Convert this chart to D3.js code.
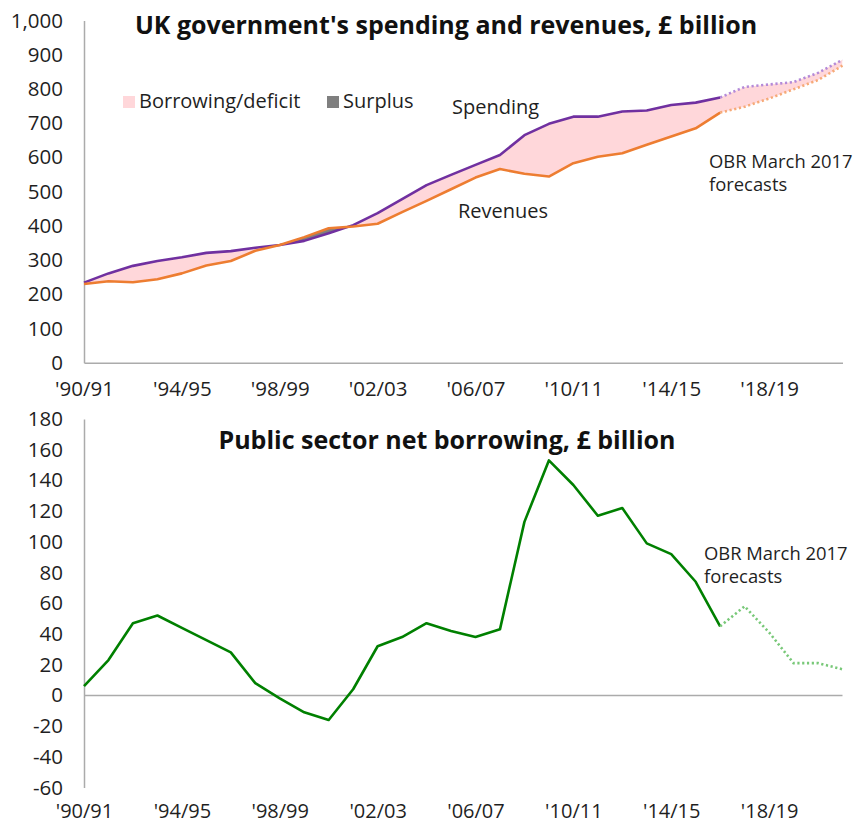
<!DOCTYPE html>
<html>
<head>
<meta charset="utf-8">
<script src="https://cdn.jsdelivr.net/npm/d3@7"></script>
<style>
  html, body { margin: 0; padding: 0; background: #fff; }
  svg { display: block; font-family: "Open Sans", "Noto Sans", sans-serif; }
  .tick text { fill: #1f1f1f; }
</style>
</head>
<body>
<svg id="chart" width="855" height="825"></svg>
<script>
// Fiscal years 1990/91 .. 2021/22 (from 2016/17 onwards the values are OBR March 2017 forecasts)
const years = [
  "1990/91","1991/92","1992/93","1993/94","1994/95","1995/96","1996/97","1997/98",
  "1998/99","1999/00","2000/01","2001/02","2002/03","2003/04","2004/05","2005/06",
  "2006/07","2007/08","2008/09","2009/10","2010/11","2011/12","2012/13","2013/14",
  "2014/15","2015/16","2016/17","2017/18","2018/19","2019/20","2020/21","2021/22"
];
const forecastStart = "2016/17";

// Total spending, £ billion
const spending = [
  234, 261, 283, 297, 308, 321, 326, 336,
  344, 356, 378, 402, 437, 478, 519, 549,
  578, 607, 665, 698, 719, 719, 734, 737,
  753, 760, 775, 806, 813, 820, 847, 885
];
// Total revenues, £ billion
const revenues = [
  230, 238, 235, 244, 261, 284, 297, 327,
  344, 367, 393, 398, 406, 440, 473, 507,
  541, 566, 552, 544, 583, 602, 612, 637,
  661, 685, 731, 748, 772, 799, 826, 868
];
// Public sector net borrowing, £ billion
const borrowing = [
  6, 23, 47, 52, 44, 36, 28, 8,
  -2, -11, -16, 4, 32, 38, 47, 42,
  38, 43, 113, 153, 137, 117, 122, 99,
  92, 74, 45, 58, 41, 21, 21, 17
];

const xTickLabels = ["'90/91","'94/95","'98/99","'02/03","'06/07","'10/11","'14/15","'18/19"];
const topTicks = [0, 100, 200, 300, 400, 500, 600, 700, 800, 900, 1000];
const bottomTicks = [-60, -40, -20, 0, 20, 40, 60, 80, 100, 120, 140, 160, 180];

const svg = d3.select("#chart");
const AXIS_GREY = "#ababab";
const TEXT = "#1f1f1f";

const x = d3.scalePoint().domain(years).range([84, 842.5]);
const tickYears = years.filter((d, i) => i % 4 === 0);
const tickLabelOf = y => xTickLabels[tickYears.indexOf(y)];
const fIdx = years.indexOf(forecastStart);

const rows = years.map((y, i) => ({ year: y, i, spend: spending[i], rev: revenues[i], psnb: borrowing[i] }));
const actual = rows.filter(d => d.i <= fIdx);
const forecast = rows.filter(d => d.i >= fIdx);

/* ---------------- Upper panel: spending and revenues ---------------- */
const yTop = d3.scaleLinear().domain([0, 1000]).range([362.7, 20.5]);
const gTop = svg.append("g");

const plotTop = yTop.range()[1], plotBottom = yTop.range()[0];

// Clip regions above each line, used to split the band into deficit and surplus parts
const defs = svg.append("defs");
defs.append("clipPath").attr("id", "aboveRevenue").append("path")
  .attr("d", d3.area().x(d => x(d.year)).y0(plotTop).y1(d => yTop(d.rev))(rows));
defs.append("clipPath").attr("id", "aboveSpending").append("path")
  .attr("d", d3.area().x(d => x(d.year)).y0(plotTop).y1(d => yTop(d.spend))(rows));

// Deficit: below the spending line and above the revenue line
gTop.append("path")
  .attr("clip-path", "url(#aboveRevenue)")
  .attr("fill", "#ffd7da")
  .attr("d", d3.area().x(d => x(d.year)).y0(d => yTop(d.spend)).y1(plotBottom)(rows));
// Surplus: below the revenue line and above the spending line
gTop.append("path")
  .attr("clip-path", "url(#aboveSpending)")
  .attr("fill", "#7f7f7f")
  .attr("d", d3.area().x(d => x(d.year)).y0(d => yTop(d.rev)).y1(plotBottom)(rows));

// Axes
const yAxisTop = gTop.append("g").attr("transform", "translate(84,0)")
  .call(d3.axisLeft(yTop).tickValues(topTicks).tickFormat(d3.format(",")).tickSize(0).tickPadding(21));
yAxisTop.select(".domain").attr("stroke", AXIS_GREY).attr("stroke-width", 1.5);
yAxisTop.selectAll("text").attr("font-size", 20.5).attr("font-family", "Open Sans");

const xAxisTop = gTop.append("g").attr("transform", `translate(0,${plotBottom})`)
  .call(d3.axisBottom(x).tickValues(tickYears).tickFormat(tickLabelOf).tickSize(0).tickPadding(19));
xAxisTop.select(".domain").attr("stroke", AXIS_GREY).attr("stroke-width", 1.5);
xAxisTop.selectAll("text").attr("font-size", 20.5).attr("font-family", "Open Sans");

// Lines
const lineS = d3.line().x(d => x(d.year)).y(d => yTop(d.spend));
const lineR = d3.line().x(d => x(d.year)).y(d => yTop(d.rev));
gTop.append("path").datum(actual).attr("d", lineS).attr("fill", "none")
  .attr("stroke", "#7030a0").attr("stroke-width", 2.6).attr("stroke-linejoin", "round");
gTop.append("path").datum(actual).attr("d", lineR).attr("fill", "none")
  .attr("stroke", "#ed7d31").attr("stroke-width", 2.6).attr("stroke-linejoin", "round");
gTop.append("path").datum(forecast).attr("d", lineS).attr("fill", "none")
  .attr("stroke", "#b48ad8").attr("stroke-width", 2.6).attr("stroke-dasharray", "2.2,2.6");
gTop.append("path").datum(forecast).attr("d", lineR).attr("fill", "none")
  .attr("stroke", "#f6aa78").attr("stroke-width", 2.6).attr("stroke-dasharray", "2.2,2.6");

// Title
gTop.append("text").attr("x", 446).attr("y", 34).attr("text-anchor", "middle")
  .attr("font-size", 25).attr("font-weight", 700).attr("fill", "#111")
  .text("UK government's spending and revenues, £ billion");

// Legend
const legend = gTop.append("g").attr("font-size", 20).attr("fill", TEXT);
legend.append("rect").attr("x", 123).attr("y", 96).attr("width", 12).attr("height", 12).attr("fill", "#ffd7da");
legend.append("text").attr("x", 139).attr("y", 108).text("Borrowing/deficit");
legend.append("rect").attr("x", 327).attr("y", 96).attr("width", 12).attr("height", 12).attr("fill", "#7f7f7f");
legend.append("text").attr("x", 343).attr("y", 108).text("Surplus");

// Series labels
gTop.append("text").attr("x", 452).attr("y", 114).attr("font-size", 20).attr("fill", TEXT).text("Spending");
gTop.append("text").attr("x", 458).attr("y", 218).attr("font-size", 20).attr("fill", TEXT).text("Revenues");
const obrTop = gTop.append("text").attr("font-size", 18.4).attr("fill", TEXT);
obrTop.append("tspan").attr("x", 709).attr("y", 168).text("OBR March 2017");
obrTop.append("tspan").attr("x", 709).attr("y", 191).text("forecasts");

/* ---------------- Lower panel: net borrowing ---------------- */
const yBot = d3.scaleLinear().domain([-60, 180]).range([787.5, 419]);
const gBot = svg.append("g");

const yAxisBot = gBot.append("g").attr("transform", "translate(84,0)")
  .call(d3.axisLeft(yBot).tickValues(bottomTicks).tickFormat(d => String(d)).tickSize(0).tickPadding(21));
yAxisBot.select(".domain").attr("stroke", AXIS_GREY).attr("stroke-width", 1.5);
yAxisBot.selectAll("text").attr("font-size", 20.5).attr("font-family", "Open Sans");

// Category labels sit at the bottom of the panel; the axis line itself crosses at zero
const xAxisBot = gBot.append("g").attr("transform", `translate(0,${yBot(-60)})`)
  .call(d3.axisBottom(x).tickValues(tickYears).tickFormat(tickLabelOf).tickSize(0).tickPadding(16));
xAxisBot.select(".domain").remove();
xAxisBot.selectAll("text").attr("font-size", 20).attr("font-family", "Open Sans");

gBot.append("line")
  .attr("x1", x(years[0])).attr("x2", x(years[years.length - 1]))
  .attr("y1", yBot(0)).attr("y2", yBot(0))
  .attr("stroke", AXIS_GREY).attr("stroke-width", 1.5);

const lineB = d3.line().x(d => x(d.year)).y(d => yBot(d.psnb));
gBot.append("path").datum(actual).attr("d", lineB).attr("fill", "none")
  .attr("stroke", "#008000").attr("stroke-width", 2.6).attr("stroke-linejoin", "round");
gBot.append("path").datum(forecast).attr("d", lineB).attr("fill", "none")
  .attr("stroke", "#78c878").attr("stroke-width", 2.6).attr("stroke-dasharray", "2.2,2.6");

gBot.append("text").attr("x", 447).attr("y", 449).attr("text-anchor", "middle")
  .attr("font-size", 25).attr("font-weight", 700).attr("fill", "#111")
  .text("Public sector net borrowing, £ billion");

const obrBot = gBot.append("text").attr("font-size", 18.4).attr("fill", TEXT);
obrBot.append("tspan").attr("x", 704).attr("y", 560).text("OBR March 2017");
obrBot.append("tspan").attr("x", 704).attr("y", 583).text("forecasts");
</script>
</body>
</html>
